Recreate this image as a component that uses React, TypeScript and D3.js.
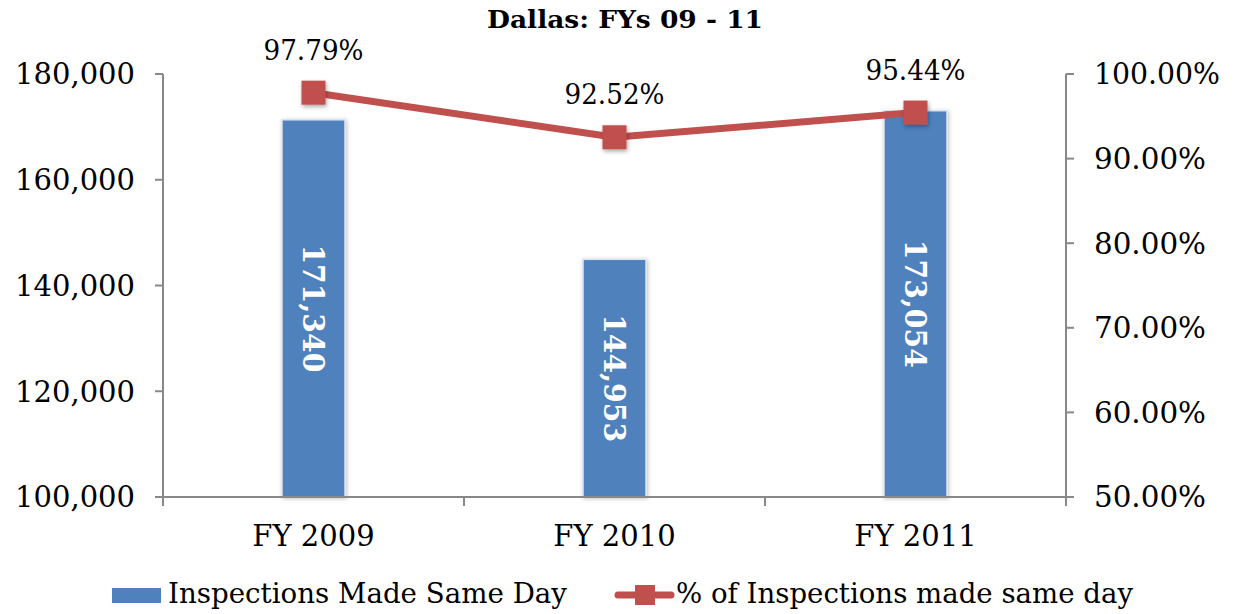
import React from "react";
import * as d3 from "d3";

const categories = ["FY 2009", "FY 2010", "FY 2011"];
const inspections = [171340, 144953, 173054];
const percentSameDay = [97.79, 92.52, 95.44];
const leftTicks = [100000, 120000, 140000, 160000, 180000];
const rightTicks = [50, 60, 70, 80, 90, 100];
const title = "Dallas: FYs 09 - 11";
const seriesNames = ["Inspections Made Same Day", "% of Inspections made same day"];

const W = 1239, H = 614;
const left = 163, right = 1066, top = 74, bottom = 497;
const font = "'DejaVu Serif', serif";
const blue = "#4F81BD";
const red = "#C0504D";

export default function App() {
  const x = d3.scaleBand<string>().domain(categories).range([left, right]).paddingInner(0).paddingOuter(0);
  const yL = d3.scaleLinear().domain([100000, 180000]).range([bottom, top]);
  const yR = d3.scaleLinear().domain([50, 100]).range([bottom, top]);
  const barW = 63;
  const fmt = d3.format(",");
  const cx = (c: string) => (x(c) as number) + x.bandwidth() / 2;
  const line = d3.line<number>().x((_, i) => cx(categories[i])).y((d) => yR(d));
  const boundaries = [...categories.map((c) => x(c) as number), right];

  return (
    <svg width={W} height={H} style={{ position: "absolute", left: 0, top: 0 }}>
      <defs>
        <filter id="sh" x="-30%" y="-30%" width="160%" height="160%">
          <feDropShadow dx="1" dy="2" stdDeviation="2" floodColor="#000" floodOpacity="0.35" />
        </filter>
        <filter id="shb" x="-30%" y="-10%" width="160%" height="120%">
          <feDropShadow dx="1" dy="1" stdDeviation="2" floodColor="#000" floodOpacity="0.25" />
        </filter>
      </defs>
      <rect width={W} height={H} fill="#fff" />
      <text x={625} y={28} textAnchor="middle" fontFamily={font} fontWeight="bold" fontSize={25}
        textLength={276} lengthAdjust="spacingAndGlyphs">
        {title}
      </text>
      {/* bars */}
      {categories.map((c, i) => (
        <g key={c}>
          <rect x={cx(c) - barW / 2} y={yL(inspections[i])} width={barW} height={bottom - yL(inspections[i])}
            fill={blue} stroke="#dbe4f0" strokeWidth={1.5} filter="url(#shb)" />
          <text transform={`translate(${cx(c)},${(yL(inspections[i]) + bottom) / 2}) rotate(90)`}
            textAnchor="middle" dy="0.36em" fill="#fff" fontFamily={font} fontWeight="bold" fontSize={29}
            textLength={128} lengthAdjust="spacingAndGlyphs">
            {fmt(inspections[i])}
          </text>
        </g>
      ))}
      {/* axes */}
      <g stroke="#888" strokeWidth={2} fill="none">
        <line x1={left} x2={left} y1={top} y2={bottom} />
        {leftTicks.map((t) => <line key={t} x1={left - 8} x2={left} y1={yL(t)} y2={yL(t)} />)}
        <line x1={right} x2={right} y1={top} y2={bottom} />
        {rightTicks.map((t) => <line key={t} x1={right} x2={right + 8} y1={yR(t)} y2={yR(t)} />)}
        <line x1={left - 8} x2={right} y1={bottom} y2={bottom} />
        {boundaries.map((b, i) => <line key={i} x1={b} x2={b} y1={bottom} y2={bottom + 9} />)}
      </g>
      {leftTicks.map((t) => (
        <text key={t} x={135} y={yL(t)} dy="0.36em" textAnchor="end" fontFamily={font} fontSize={29}>{fmt(t)}</text>
      ))}
      {rightTicks.map((t) => (
        <text key={t} x={1094} y={yR(t)} dy="0.36em" textAnchor="start" fontFamily={font} fontSize={29}
          textLength={t === 100 ? 126 : 112} lengthAdjust="spacingAndGlyphs">{t.toFixed(2)}%</text>
      ))}
      {categories.map((c) => (
        <text key={c} x={cx(c)} y={546} textAnchor="middle" fontFamily={font} fontSize={29}>{c}</text>
      ))}
      {/* line */}
      <path d={line(percentSameDay) || ""} fill="none" stroke={red} strokeWidth={7} strokeLinejoin="round" />
      {percentSameDay.map((v, i) => (
        <rect key={i} x={cx(categories[i]) - 12} y={yR(v) - 12} width={24} height={24} fill={red} filter="url(#sh)" />
      ))}
      {percentSameDay.map((v, i) => (
        <text key={i} x={cx(categories[i])} y={yR(v) - 33} textAnchor="middle" fontFamily={font} fontSize={28}
          textLength={100} lengthAdjust="spacingAndGlyphs">
          {v.toFixed(2)}%
        </text>
      ))}
      {/* legend */}
      <rect x={112} y={588} width={49} height={15} fill={blue} />
      <text x={168} y={603} fontFamily={font} fontSize={28} textLength={399} lengthAdjust="spacingAndGlyphs">
        {seriesNames[0]}
      </text>
      <line x1={618} x2={671} y1={595} y2={595} stroke={red} strokeWidth={7} strokeLinecap="round" />
      <rect x={635} y={585} width={20} height={20} fill={red} />
      <text x={676} y={603} fontFamily={font} fontSize={28} textLength={457} lengthAdjust="spacingAndGlyphs">
        {seriesNames[1]}
      </text>
    </svg>
  );
}
